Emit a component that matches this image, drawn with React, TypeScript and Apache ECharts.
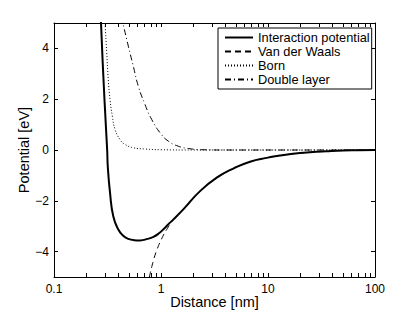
import React, { useEffect, useRef } from "react";
import * as echarts from "echarts";

// [distance nm, potential eV]
const interactionPotential: [number, number][] = [
  [0.262, 7.5], [0.275, 5.0], [0.297, 1.9], [0.314, 0.0], [0.318, -0.64], [0.334, -1.69],
  [0.358, -2.61], [0.399, -3.13], [0.444, -3.38], [0.495, -3.5], [0.56, -3.55], [0.637, -3.56],
  [0.75, -3.5], [0.85, -3.42], [0.944, -3.3], [1.09, -3.06], [1.2, -2.88], [1.3, -2.74],
  [1.616, -2.34], [2.315, -1.62], [3.317, -1.09], [4.74, -0.73], [6.79, -0.46], [9.72, -0.31],
  [12.9, -0.22], [17.1, -0.15], [24.7, -0.09], [35.4, -0.05], [50.3, -0.02], [70, -0.01], [100, 0],
];
const vanDerWaals: [number, number][] = [
  [0.74, -5.4], [0.778, -5.0], [0.85, -4.35], [0.912, -3.95], [1.0, -3.55], [1.13, -3.13],
  [1.3, -2.76], [1.616, -2.35], [2.315, -1.63], [3.317, -1.1], [4.74, -0.74], [6.79, -0.47],
  [9.72, -0.31], [12.9, -0.22], [17.1, -0.15], [24.7, -0.09], [35.4, -0.05], [50.3, -0.02],
  [70, -0.01], [100, 0],
];
const born: [number, number][] = [
  [0.281, 7.0], [0.2997, 5.0], [0.311, 3.83], [0.3216, 2.78], [0.334, 1.99], [0.351, 1.33],
  [0.372, 0.81], [0.414, 0.41], [0.461, 0.22], [0.551, 0.09], [0.709, 0.04], [1.0, 0.01],
  [2.0, 0], [100, 0],
];
const doubleLayer: [number, number][] = [
  [0.4, 5.75], [0.44, 5.0], [0.495, 4.09], [0.551, 3.3], [0.614, 2.51], [0.709, 1.79],
  [0.819, 1.2], [0.979, 0.68], [1.17, 0.35], [1.45, 0.15], [1.8, 0.06], [2.5, 0.01],
  [4.0, 0], [100, 0],
];

const seriesNames = ["Interaction potential", "Van der Waals", "Born", "Double layer"];
const xTickLabels = [0.1, 1, 10, 100];
const xMinorTicks = [
  0.2, 0.3, 0.4, 0.5, 0.6, 0.7, 0.8, 0.9,
  2, 3, 4, 5, 6, 7, 8, 9,
  20, 30, 40, 50, 60, 70, 80, 90,
];
const yTickValues = [-4, -2, 0, 2, 4];

const FONT = "'Liberation Sans', Arial, Helvetica, sans-serif";

export default function App() {
  const ref = useRef<HTMLDivElement>(null);
  useEffect(() => {
    const chart = echarts.init(ref.current!, null, { renderer: "svg" });
    const axisLine = { show: true, onZero: false, lineStyle: { color: "#000", width: 1 } };
    const tick = { show: true, inside: true, length: 4, lineStyle: { color: "#000", width: 1 } };
    const mkSeries = (name: string, data: [number, number][], width: number, type: any, z: number) => ({
      name,
      type: "line",
      data,
      showSymbol: false,
      symbol: "none",
      smooth: 0.5,
      clip: true,
      z,
      itemStyle: { color: "#000" },
      lineStyle: { color: "#000", width, type },
    });
    const option: any = {
      animation: false,
      backgroundColor: "#fff",
      grid: {
        left: 54,
        right: 40,
        top: 23,
        bottom: 35,
        containLabel: false,
        outerBoundsMode: "none",
      },
      legend: {
        data: seriesNames,
        orient: "vertical",
        left: 218,
        top: 28,
        itemWidth: 28,
        itemHeight: 12,
        itemGap: 1,
        padding: [3, 2, 3, 6],
        borderColor: "#000",
        borderWidth: 1,
        borderRadius: 0,
        backgroundColor: "#fff",
        itemStyle: { opacity: 0 },
        textStyle: { color: "#000", fontSize: 12.8, fontFamily: FONT, lineHeight: 12 },
      },
      xAxis: [
        {
          type: "log",
          logBase: 10,
          min: 0.1,
          max: 100,
          position: "bottom",
          axisLine,
          axisTick: tick,
          splitLine: { show: false },
          minorTick: { show: false },
          axisLabel: {
            color: "#000",
            fontSize: 12,
            fontFamily: FONT,
            margin: 6,
            formatter: (v: number) => {
              const r = xTickLabels.find((t) => Math.abs(Math.log10(t) - Math.log10(v)) < 1e-6);
              return r !== undefined ? String(r) : "";
            },
          },
          name: "Distance [nm]",
          nameLocation: "middle",
          nameGap: 17.5,
          nameMoveOverlap: false,
          nameTextStyle: { color: "#000", fontSize: 14.5, fontFamily: FONT },
        },
        {
          type: "log",
          logBase: 10,
          min: 0.1,
          max: 100,
          position: "top",
          axisLine,
          axisTick: tick,
          splitLine: { show: false },
          axisLabel: { show: false },
        },
      ],
      yAxis: [
        {
          type: "value",
          min: -5,
          max: 5,
          position: "left",
          axisLine,
          axisTick: { ...tick, customValues: yTickValues },
          splitLine: { show: false },
          axisLabel: {
            customValues: yTickValues,
            color: "#000",
            fontSize: 12,
            fontFamily: FONT,
            margin: 5,
            formatter: (v: number) => (v < 0 ? "\u2212" + Math.abs(v) : String(v)),
          },
          name: "Potential [eV]",
          nameLocation: "middle",
          nameGap: 23,
          nameMoveOverlap: false,
          nameTextStyle: { color: "#000", fontSize: 14.5, fontFamily: FONT },
        },
        {
          type: "value",
          min: -5,
          max: 5,
          position: "right",
          axisLine,
          axisTick: { ...tick, customValues: yTickValues },
          splitLine: { show: false },
          axisLabel: { show: false },
        },
      ],
      series: [
        mkSeries(seriesNames[0], interactionPotential, 2, "solid", 5),
        mkSeries(seriesNames[1], vanDerWaals, 1, [6, 4], 3),
        mkSeries(seriesNames[2], born, 1, [1, 2], 3),
        mkSeries(seriesNames[3], doubleLayer, 1, [6, 3, 1, 3], 3),
      ],
    };
    chart.setOption(option);

    const yBot = chart.convertToPixel({ yAxisIndex: 0 }, -5) as number;
    const yTop = chart.convertToPixel({ yAxisIndex: 0 }, 5) as number;
    const graphics: any[] = [];
    for (const v of xMinorTicks) {
      const x = chart.convertToPixel({ xAxisIndex: 0 }, v) as number;
      const xx = Math.round(x) + 0.5;
      graphics.push({
        type: "line",
        silent: true,
        shape: { x1: xx, y1: yBot, x2: xx, y2: yBot - 4 },
        style: { stroke: "#000", lineWidth: 1 },
      });
      graphics.push({
        type: "line",
        silent: true,
        shape: { x1: xx, y1: yTop, x2: xx, y2: yTop + 4 },
        style: { stroke: "#000", lineWidth: 1 },
      });
    }
    chart.setOption({ graphic: graphics });

    return () => chart.dispose();
  }, []);
  return (
    <div
      ref={ref}
      style={{ position: "absolute", left: 0, top: 0, width: 415, height: 312 }}
    />
  );
}
